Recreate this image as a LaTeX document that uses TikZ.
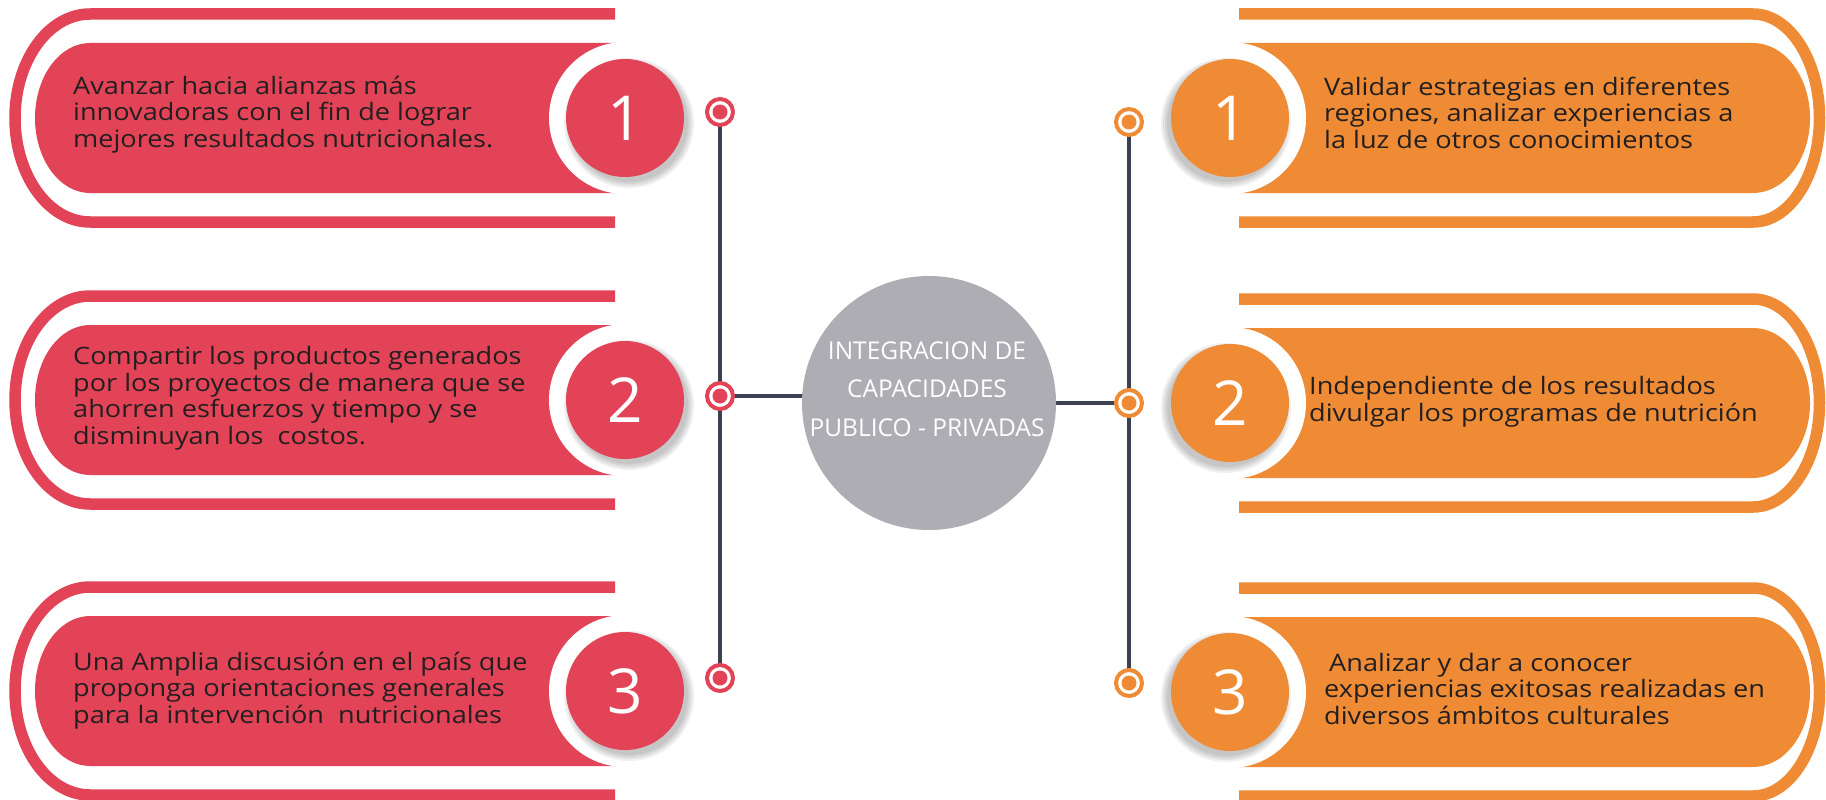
\documentclass[tikz,border=0pt]{standalone}
\usepackage{fontspec}
\setmainfont{Open Sans}
\newfontfamily\itemfont{Open Sans}[FakeStretch=1.13]
\usetikzlibrary{backgrounds}
\pgfdeclarelayer{bottom}
\pgfdeclarelayer{background}
\pgfsetlayers{bottom,background,main}
\definecolor{cred}{HTML}{E34357}
\definecolor{corange}{HTML}{EE8B34}
\definecolor{cgray}{HTML}{AEADB3}
\definecolor{cline}{HTML}{3B4150}
\definecolor{ctext}{HTML}{231F20}

\newcommand{\leftshape}[3]{%
  \begin{scope}[shift={(0,-#2)}]
    \draw[band,cred] (615,104) -- (90,104) arc[start angle=90,end angle=270,x radius=75,y radius=104] -- (615,-104);
    \fill[cred] (615,75) -- (90,75) arc[start angle=90,end angle=270,x radius=55,y radius=75] -- (615,-75) -- cycle;
    \fill[white] (625,0) circle (76);
    \foreach \r in {59,61,63,65} \fill[black,opacity=0.06] (629,-5) circle (\r);
    \node[numcirc,fill=cred] (#1) at (625,0) {#3};
  \end{scope}}

\newcommand{\rightshape}[3]{%
  \begin{scope}[shift={(0,-#2)}]
    \draw[band,corange] (1239,104) -- (1753,104) arc[start angle=90,end angle=-90,x radius=66.5,y radius=104] -- (1239,-104);
    \fill[corange] (1239,75) -- (1753,75) arc[start angle=90,end angle=-90,x radius=57,y radius=75] -- (1239,-75) -- cycle;
    \fill[white] (1230,0) circle (76);
    \foreach \r in {59,61,63,65} \fill[black,opacity=0.06] (1226,-5) circle (\r);
    \node[numcirc,fill=corange] (#1) at (1230,0) {#3};
  \end{scope}}

\begin{document}
\begin{tikzpicture}[x=1pt,y=1pt,
  band/.style={line width=11.5pt},
  numcirc/.style={circle,inner sep=0pt,minimum size=118pt,text=white,font=\fontsize{62}{62}\selectfont},
  itemtext/.style={align=left,inner sep=0pt,anchor=base west,text=ctext,font=\itemfont\fontsize{24}{26.5}\selectfont},
  marker/.style={circle,inner sep=0pt,minimum size=26pt,line width=4pt,fill=white,draw=#1,
    path picture={\fill[#1] (path picture bounding box.center) circle (7.5);}},
  conn/.style={draw=cline,line width=4pt}]
  \useasboundingbox (0,0) rectangle (1826,-800);
  \begin{pgfonlayer}{bottom}
    \fill[white] (0,0) rectangle (1826,-800);
  \end{pgfonlayer}

  % left items
  \leftshape{nl1}{118}{1}
  \leftshape{nl2}{400}{2}
  \leftshape{nl3}{691}{3}
  % right items
  \rightshape{nr1}{118}{1}
  \rightshape{nr2}{403}{2}
  \rightshape{nr3}{692}{3}

  % text blocks (anchored at the baseline of their last line)
  \node[itemtext] (tl1) at (73,-147) {Avanzar hacia alianzas más\\innovadoras con el fin de lograr\\mejores resultados nutricionales.};
  \node[itemtext] (tl2) at (73,-444) {Compartir los productos generados\\por los proyectos de manera que se\\ahorren esfuerzos y tiempo y se\\disminuyan los~ costos.};
  \node[itemtext] (tl3) at (73,-723) {Una Amplia discusión en el país que\\proponga orientaciones generales\\para la intervención~ nutricionales};
  \node[itemtext] (tr1) at (1324,-148) {Validar estrategias en diferentes\\regiones, analizar experiencias a\\la luz de otros conocimientos};
  \node[itemtext] (tr2) at (1309,-421) {Independiente de los resultados\\divulgar los programas de nutrición};
  \node[itemtext] (tr3) at (1324,-724) {\hspace*{5pt}Analizar y dar a conocer\\experiencias exitosas realizadas en\\diversos ámbitos culturales};

  % centre
  \node[circle,fill=cgray,minimum size=254pt,inner sep=0pt] (ctr) at (929,-403) {};
  \node[align=center,inner sep=0pt,anchor=base,text=white,font=\fontsize{24.5}{38.5}\selectfont] (ctrtext) at (927,-436) {INTEGRACION DE\\CAPACIDADES\\PUBLICO - PRIVADAS};

  % markers
  \node[marker=cred] (ml1) at (720,-112) {};
  \node[marker=cred] (ml2) at (720,-396) {};
  \node[marker=cred] (ml3) at (720,-678) {};
  \node[marker=corange] (mr1) at (1129,-122) {};
  \node[marker=corange] (mr2) at (1129,-403) {};
  \node[marker=corange] (mr3) at (1129,-683) {};

  \begin{pgfonlayer}{background}
    \draw[conn] (ml1.center) -- (ml3.center);
    \draw[conn] (ml2.center) -- (ml2.center -| ctr.center);
    \draw[conn] (mr1.center) -- (mr3.center);
    \draw[conn] (mr2.center -| ctr.center) -- (mr2.center);
  \end{pgfonlayer}
\end{tikzpicture}
\end{document}
